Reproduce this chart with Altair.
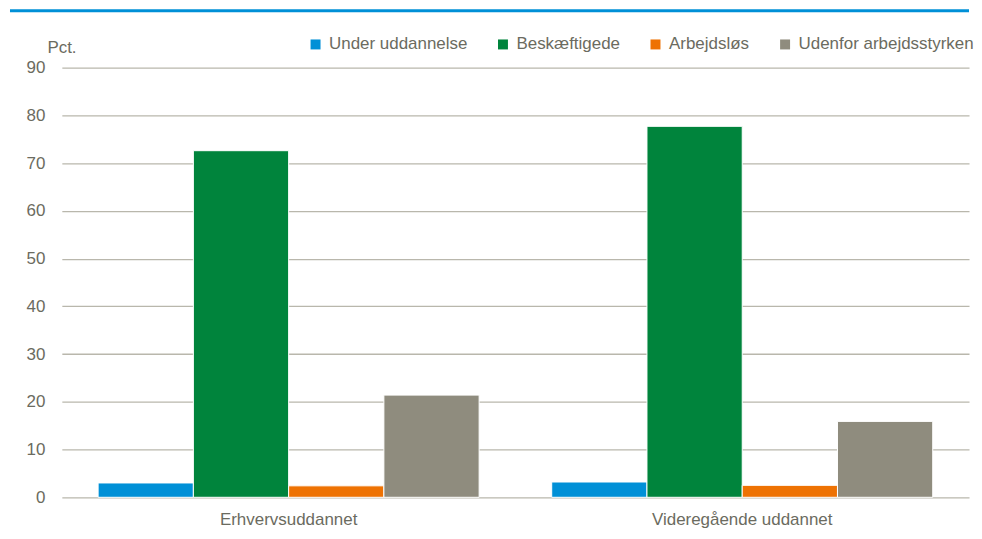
import altair as alt
import pandas as pd

groups = ["Erhvervsuddannet", "Videregående uddannet"]
series = ["Under uddannelse", "Beskæftigede", "Arbejdsløs", "Udenfor arbejdsstyrken"]
colors = ["#0090D7", "#00843C", "#EE7203", "#8F8C7E"]
vals_erhverv = [3.0, 72.6, 2.4, 21.4]
vals_videreg = [3.2, 77.7, 2.5, 15.9]

rows = []
for g, vals in zip(groups, [vals_erhverv, vals_videreg]):
    for s, v in zip(series, vals):
        rows.append({"gruppe": g, "serie": s, "pct": v})
df = pd.DataFrame(rows)

FONT = "Liberation Sans, Arial, sans-serif"
FS = 17
TXT = "#6b6b60"
W, H = 910, 431

bars = alt.Chart(df).mark_bar(stroke="white", strokeWidth=1).encode(
    x=alt.X("gruppe:N", sort=groups, title=None,
            scale=alt.Scale(paddingInner=0.16, paddingOuter=0.08),
            axis=alt.Axis(labelAngle=0, labelFont=FONT, labelFontSize=FS, labelColor=TXT,
                          ticks=False, domain=False, grid=False, labelPadding=14, labelLimit=0)),
    xOffset=alt.XOffset("serie:N", sort=series, scale=alt.Scale(paddingInner=0, paddingOuter=0)),
    y=alt.Y("pct:Q", title="Pct.", scale=alt.Scale(domain=[0, 90], nice=False),
            axis=alt.Axis(values=list(range(0, 91, 10)), labelFont=FONT, labelFontSize=FS,
                          labelColor=TXT, ticks=False, domain=False, labelPadding=17,
                          grid=True, gridColor="#b9b7ac", gridWidth=1.3,
                          titleAngle=0, titleAlign="left", titleBaseline="alphabetic",
                          titleX=-15, titleY=-15, titleFont=FONT, titleFontSize=FS,
                          titleFontWeight="normal", titleColor=TXT,
                          minExtent=52, maxExtent=52)),
    color=alt.Color("serie:N", sort=series, scale=alt.Scale(domain=series, range=colors),
                    legend=alt.Legend(title=None, orient="none", legendX=246, legendY=-32,
                                      direction="horizontal", columns=4, columnPadding=27,
                                      padding=0, symbolType="square", symbolSize=100,
                                      symbolStrokeWidth=0, labelFont=FONT, labelFontSize=FS,
                                      labelColor=TXT, labelOffset=5, labelLimit=0)),
)

topline = alt.Chart(pd.DataFrame({"a": [0]})).mark_rule(color="#0090D7", strokeWidth=3).encode(
    x=alt.value(-52), x2=alt.value(W), y=alt.value(-57)
)

chart = alt.layer(bars, topline).properties(
    width=W, height=H, padding=0, background="white"
).configure_view(stroke="transparent", strokeWidth=0)

chart.save("out.html", embed_options={"renderer": "svg", "actions": False})
